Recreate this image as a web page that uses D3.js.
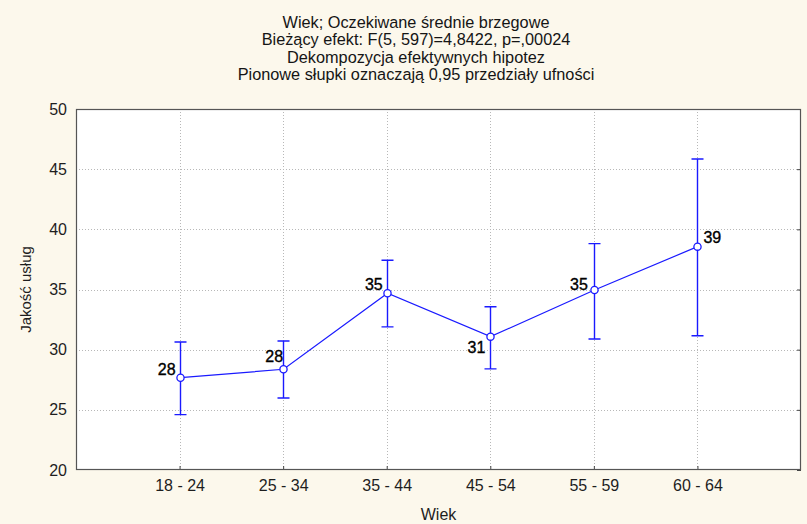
<!DOCTYPE html>
<html>
<head>
<meta charset="utf-8">
<script src="https://cdn.jsdelivr.net/npm/d3@7"></script>
<style>
  html, body { margin: 0; padding: 0; background: #fcf8ec; }
  svg { display: block; font-family: "Liberation Sans", Arial, sans-serif; }
</style>
</head>
<body>
<svg id="chart" width="807" height="524"></svg>
<script>
// Age groups and estimated marginal means with 95% confidence limits
const categories = ["18 - 24", "25 - 34", "35 - 44", "45 - 54", "55 - 59", "60 - 64"];
const means = [27.67, 28.37, 34.69, 31.08, 34.96, 38.56];
const lower = [24.60, 25.98, 31.89, 28.40, 30.89, 31.16];
const upper = [30.64, 30.72, 37.43, 33.57, 38.81, 45.85];
const yTicks = [20, 25, 30, 35, 40, 45, 50];
const titleLines = [
  "Wiek; Oczekiwane średnie brzegowe",
  "Bieżący efekt: F(5, 597)=4,8422, p=,00024",
  "Dekompozycja efektywnych hipotez",
  "Pionowe słupki oznaczają 0,95 przedziały ufności"
];

const svg = d3.select("#chart");
const plot = { left: 76, right: 801, top: 109, bottom: 470 };
const blue = "#1a1aff";
const font = "Liberation Sans, Arial, sans-serif";

// Categories sit at 1..n on a continuous axis with one spare slot at each end
const x = d3.scaleLinear().domain([0, categories.length + 1]).range([plot.left, plot.right]);
const y = d3.scaleLinear().domain([20, 50]).range([plot.bottom, plot.top]);

const rows = categories.map((c, i) => ({ c, i: i + 1, m: means[i], lo: lower[i], hi: upper[i] }));

// Title block
svg.append("g")
  .selectAll("text")
  .data(titleLines)
  .join("text")
  .attr("x", 416)
  .attr("y", (d, i) => 28 + i * 17.3)
  .attr("text-anchor", "middle")
  .attr("font-size", 16.3)
  .attr("fill", "#151515")
  .text(d => d);

// Plot background
svg.append("rect")
  .attr("x", plot.left).attr("y", plot.top)
  .attr("width", plot.right - plot.left).attr("height", plot.bottom - plot.top)
  .attr("fill", "#ffffff");

// Grid lines
const grid = svg.append("g").attr("stroke", "#b8b8b8").attr("stroke-dasharray", "1,2").attr("stroke-width", 1);
grid.selectAll("line.h")
  .data(yTicks.slice(1, -1))
  .join("line")
  .attr("x1", plot.left).attr("x2", plot.right)
  .attr("y1", d => Math.round(y(d)) + 0.5).attr("y2", d => Math.round(y(d)) + 0.5);
grid.selectAll("line.v")
  .data(rows)
  .join("line")
  .attr("x1", d => Math.round(x(d.i)) + 0.5).attr("x2", d => Math.round(x(d.i)) + 0.5)
  .attr("y1", plot.top).attr("y2", plot.bottom);

// Left axis
const yAxis = svg.append("g")
  .attr("transform", `translate(${plot.left},0)`)
  .call(d3.axisLeft(y).tickValues(yTicks).tickSize(0).tickPadding(9));
yAxis.select(".domain").remove();
yAxis.selectAll("text").attr("font-size", 16).attr("fill", "#1e1e1e").attr("font-family", font);

// Right side inner ticks
svg.append("g")
  .attr("transform", `translate(${plot.right},0)`)
  .call(d3.axisLeft(y).tickValues(yTicks).tickSize(4).tickFormat(""))
  .call(g => g.select(".domain").remove())
  .selectAll("line").attr("stroke", "#444");

// Bottom axis
const xAxis = svg.append("g")
  .attr("transform", `translate(0,${plot.bottom})`)
  .call(d3.axisBottom(x).tickValues(rows.map(d => d.i)).tickFormat(i => categories[i - 1]).tickSizeInner(-4).tickSizeOuter(0).tickPadding(10));
xAxis.select(".domain").remove();
xAxis.selectAll("line").attr("stroke", "#444");
xAxis.selectAll("text").attr("font-size", 16).attr("fill", "#1e1e1e").attr("font-family", font);

// Frame
svg.append("rect")
  .attr("x", plot.left + 0.5).attr("y", plot.top + 0.5)
  .attr("width", plot.right - plot.left - 1).attr("height", plot.bottom - plot.top - 1)
  .attr("fill", "none").attr("stroke", "#555").attr("stroke-width", 1.2);

// Axis titles
svg.append("text")
  .attr("x", (plot.left + plot.right) / 2).attr("y", 520)
  .attr("text-anchor", "middle").attr("font-size", 16).attr("fill", "#1e1e1e")
  .text("Wiek");
svg.append("text")
  .attr("transform", `translate(31,${(plot.top + plot.bottom) / 2}) rotate(-90)`)
  .attr("text-anchor", "middle").attr("font-size", 15).attr("fill", "#1e1e1e")
  .text("Jakość usług");

// Confidence interval whiskers
const cap = 6;
const bars = svg.append("g").attr("stroke", blue).attr("stroke-width", 1.4).attr("fill", "none");
bars.selectAll("path")
  .data(rows)
  .join("path")
  .attr("d", d => {
    const cx = Math.round(x(d.i)) + 0.5, t = y(d.hi), b = y(d.lo);
    return `M${cx},${t}V${b}M${cx - cap},${t}H${cx + cap}M${cx - cap},${b}H${cx + cap}`;
  });

// Mean line
svg.append("path")
  .datum(rows)
  .attr("fill", "none").attr("stroke", blue).attr("stroke-width", 1.2)
  .attr("d", d3.line().x(d => Math.round(x(d.i)) + 0.5).y(d => y(d.m)));

// Mean markers
svg.append("g")
  .selectAll("circle")
  .data(rows)
  .join("circle")
  .attr("cx", d => Math.round(x(d.i)) + 0.5).attr("cy", d => y(d.m)).attr("r", 3.6)
  .attr("fill", "#fff").attr("stroke", blue).attr("stroke-width", 1.3);

// Value labels, placed around each marker away from the line
const labelPlace = [
  { dx: -4, dy: -3, anchor: "end" },
  { dx: 0, dy: -7, anchor: "end" },
  { dx: -4, dy: -3, anchor: "end" },
  { dx: -5, dy: 16, anchor: "end" },
  { dx: -6, dy: 0, anchor: "end" },
  { dx: 6, dy: -4, anchor: "start" }
];
svg.append("g")
  .selectAll("text")
  .data(rows)
  .join("text")
  .attr("x", (d, k) => x(d.i) + labelPlace[k].dx)
  .attr("y", (d, k) => y(d.m) + labelPlace[k].dy)
  .attr("text-anchor", (d, k) => labelPlace[k].anchor)
  .attr("font-size", 16).attr("fill", "#000")
  .attr("stroke", "#000").attr("stroke-width", 0.35)
  .text(d => d3.format(".0f")(d.m));
</script>
</body>
</html>
